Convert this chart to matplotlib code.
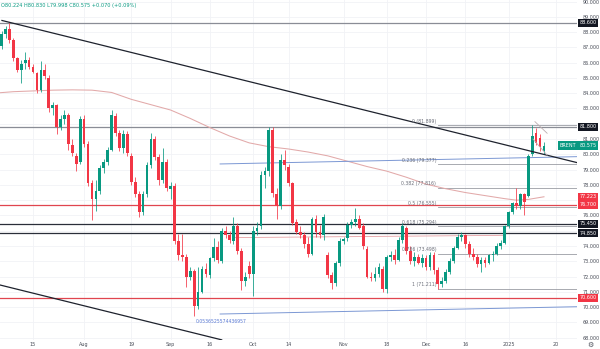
import numpy as np
import matplotlib.pyplot as plt
from matplotlib.transforms import blended_transform_factory

# daily Brent candles, one per trading day starting 2024-07-01
opens = [86.9, 87.3, 87.1, 87.9, 88.2, 87.5, 86.3, 85.5, 86.0, 86.2,
         85.7, 85.3, 84.2, 85.5, 85.0, 83.0, 83.2, 81.8, 82.3, 82.6,
         80.6, 79.9, 79.5, 82.3, 80.7, 78.1, 77.1, 77.6, 79.1, 79.5,
         80.3, 82.5, 81.4, 80.4, 81.3, 79.9, 78.2, 77.4, 76.2, 77.4,
         79.3, 81.0, 79.8, 78.3, 79.5, 77.7, 77.9, 74.3, 73.4, 73.3,
         72.0, 72.35, 70.05, 71.0, 72.5, 72.1, 73.2, 73.95, 73.0, 75.0,
         74.7, 74.3, 75.3, 73.7, 71.7, 72.7, 72.2, 75.0, 75.3, 78.65,
         78.9, 81.6, 77.4, 76.6, 79.6, 79.2, 78.1, 75.6, 74.9, 74.7,
         74.1, 73.5, 75.8, 74.9, 74.7, 73.4, 72.1, 71.6, 72.9, 74.3,
         74.5, 75.4, 75.6, 75.8, 75.3, 73.8, 72.0, 71.9, 72.2, 72.5,
         71.2, 73.3, 73.4, 73.1, 74.4, 75.2, 73.7, 73.0, 73.3, 72.9,
         73.2, 72.6, 73.4, 72.4, 71.5, 71.7, 72.3, 73.0, 73.9, 74.6,
         74.7, 74.1, 73.5, 73.3, 72.8, 73.1, 72.9, 73.4, 73.5, 74.0,
         74.2, 75.3, 76.25, 76.8, 76.6, 77.4, 77.3, 80.0, 81.4, 81.1,
         80.224]
highs = [87.6, 87.7, 88.1, 88.4, 88.6, 87.6, 86.4, 86.2, 86.7, 86.4,
         85.9, 85.4, 86.1, 85.9, 85.2, 83.4, 83.3, 82.6, 82.9, 82.7,
         81.0, 80.1, 82.5, 82.6, 80.9, 78.3, 78.3, 79.3, 79.7, 80.5,
         82.9, 82.7, 81.6, 81.6, 81.5, 80.1, 78.5, 77.6, 77.6, 79.5,
         81.4, 81.2, 80.0, 80.4, 79.7, 78.2, 78.1, 74.8, 74.8, 73.5,
         72.6, 72.5, 72.6, 72.7, 72.9, 73.3, 74.5, 74.3, 75.2, 75.3,
         75.0, 75.9, 75.5, 73.9, 72.3, 73.0, 75.3, 75.6, 78.9, 79.2,
         81.8, 81.8, 77.8, 80.0, 80.3, 79.4, 78.2, 75.8, 75.3, 74.9,
         74.6, 75.9, 76.0, 75.4, 76.1, 73.6, 72.3, 73.0, 74.5, 74.6,
         75.6, 75.8, 76.5, 76.0, 75.5, 74.0, 72.3, 72.6, 72.9, 72.7,
         73.4, 73.7, 73.8, 74.6, 75.5, 75.3, 74.0, 73.6, 73.5, 73.5,
         73.4, 73.6, 73.6, 72.6, 72.0, 72.5, 73.2, 74.0, 74.8, 74.9,
         74.8, 74.3, 73.9, 73.5, 73.3, 73.3, 73.5, 73.7, 74.2, 74.4,
         75.4, 76.3, 76.9, 77.8, 77.5, 77.5, 80.0, 81.899, 81.7, 81.3,
         80.830]
lows = [86.5, 86.8, 86.9, 87.6, 87.3, 86.1, 85.4, 84.7, 85.6, 85.6,
        85.3, 84.0, 84.1, 84.9, 82.8, 82.6, 81.3, 81.6, 82.0, 80.3,
        79.9, 78.9, 79.4, 80.5, 77.9, 75.7, 76.3, 77.4, 78.8, 79.3,
        80.2, 81.2, 80.2, 80.1, 79.9, 78.0, 77.2, 75.9, 76.0, 77.2,
        79.1, 79.6, 78.0, 78.1, 77.6, 77.1, 74.1, 73.1, 73.0, 71.35,
        71.8, 69.4, 69.9, 70.9, 72.0, 71.9, 73.0, 72.9, 72.9, 74.5,
        74.2, 74.1, 73.5, 71.1, 71.4, 71.9, 70.7, 74.7, 75.1, 77.8,
        78.6, 77.2, 75.8, 76.4, 79.0, 77.9, 75.4, 74.8, 74.5, 73.9,
        73.3, 73.4, 74.6, 74.5, 74.4, 71.9, 71.2, 71.4, 72.7, 74.1,
        74.3, 75.2, 75.3, 75.1, 73.8, 71.9, 71.7, 71.7, 72.0, 71.0,
        70.9, 73.0, 72.8, 73.0, 74.2, 73.5, 72.8, 72.7, 72.8, 72.6,
        72.4, 72.4, 72.2, 71.211, 71.3, 71.6, 72.2, 72.9, 73.8, 74.3,
        73.9, 73.3, 73.1, 72.6, 72.3, 72.6, 72.8, 73.0, 73.4, 73.8,
        74.1, 75.2, 76.1, 76.4, 76.4, 76.0, 77.2, 79.9, 80.6, 80.2,
        79.998]
closes = [87.3, 87.1, 87.9, 88.2, 87.5, 86.3, 85.5, 85.9, 86.2, 85.7,
          85.4, 84.2, 85.5, 85.1, 83.0, 83.2, 81.8, 82.3, 82.6, 80.7,
          80.1, 79.4, 82.3, 80.7, 78.1, 77.1, 77.6, 79.1, 79.5, 80.3,
          82.6, 81.4, 80.4, 81.3, 80.1, 78.2, 77.4, 76.2, 77.4, 79.3,
          81.0, 79.8, 78.3, 79.5, 77.8, 77.9, 74.3, 73.4, 73.3, 72.0,
          72.35, 70.05, 71.0, 72.5, 72.2, 73.2, 73.95, 73.1, 75.0, 74.7,
          74.4, 75.3, 73.7, 71.7, 72.0, 72.2, 75.0, 75.2, 78.65, 78.9,
          81.6, 77.5, 76.6, 79.6, 79.3, 78.1, 75.5, 74.9, 74.7, 74.1,
          73.5, 75.8, 74.9, 74.7, 75.9, 72.1, 71.6, 72.9, 74.3, 74.45,
          75.4, 75.6, 75.8, 75.2, 74.0, 72.0, 71.9, 72.2, 72.6, 71.2,
          73.3, 73.4, 73.1, 74.4, 75.3, 73.7, 73.0, 73.3, 72.9, 73.2,
          72.6, 73.4, 72.4, 71.5, 71.7, 72.3, 73.0, 73.9, 74.6, 74.7,
          74.1, 73.5, 73.3, 72.8, 73.1, 72.9, 73.4, 73.5, 74.0, 74.2,
          75.3, 76.25, 76.8, 76.6, 77.4, 76.9, 79.9, 81.2, 80.75, 80.505,
          80.575]

# 200-day moving average, sampled
ma_idx = [0, 5, 10, 15, 20, 25, 30, 35, 40, 45, 50, 55, 60, 65, 70, 75,
          80, 85, 90, 95, 100, 105, 110, 115, 120, 125, 130, 133, 136, 140]
ma_val = [84.0, 84.1, 84.15, 84.2, 84.22, 84.2, 84.05, 83.6, 83.25, 82.9,
          82.35, 81.75, 81.2, 80.75, 80.5, 80.35, 80.15, 79.9, 79.55, 79.2,
          78.9, 78.5, 78.05, 77.75, 77.5, 77.3, 77.1, 77.0, 77.05, 77.223]

tick_dates = ['2024-07-15', '2024-08-01', '2024-08-19', '2024-09-02',
              '2024-09-16', '2024-10-01', '2024-10-14', '2024-11-01',
              '2024-11-18', '2024-12-02', '2024-12-16', '2025-01-02',
              '2025-01-20']
tick_labels = ['15', 'Aug', '19', 'Sep', '16', 'Oct', '14', 'Nov', '18',
               'Dec', '16', '2025', '20']
holidays = ['2024-12-25', '2025-01-01']

fib_hi = 81.899
fib_lo = 71.211
fib_ratios = [0, 0.236, 0.382, 0.5, 0.618, 0.786, 1]

# horizontal levels with their price-scale tags
levels = [88.6, 81.8, 76.7, 75.45, 74.85, 70.6]
level_colors = ['#8a8d96', '#8a8d96', '#e0454f', '#2a2e39', '#2a2e39', '#e0454f']
tag_vals = [88.6, 81.8, 77.223, 76.7, 75.45, 74.85, 70.6]
tag_colors = ['#131722', '#131722', '#f23645', '#f23645', '#131722', '#131722', '#f23645']

GREEN = '#089981'
RED = '#f23645'
TXT = '#4a4e59'

fig = plt.figure(figsize=(6, 3.49), dpi=100)
ax = fig.add_axes([0, 9 / 349, 577 / 600, 340 / 349])
ax.set_xlim(1.6, 148.4)
ax.set_ylim(67.85, 90.1)
for s in ax.spines.values():
    s.set_visible(False)

o = np.array(opens); h = np.array(highs); l = np.array(lows); c = np.array(closes)
x = np.arange(len(c))
up = c >= o
col = np.where(up, GREEN, RED)
ax.vlines(x, l, h, colors=col, lw=0.55, zorder=4)
body = np.maximum(np.abs(c - o), 0.04)
ax.bar(x, body, bottom=np.minimum(o, c), width=0.7, color=col, lw=0, zorder=5)

# moving average
ax.plot(ma_idx, ma_val, color='#e2a9a9', lw=0.75, zorder=3)
ax.plot([60.9, 130.1], [74.55, 74.7], color='#e7a1a5', lw=0.6, zorder=3)

# horizontal levels
for lv, lc in zip(levels, level_colors):
    ax.axhline(lv, color=lc, lw=0.9, zorder=2)

# falling channel
ax.plot([2.1, 148.7], [88.76, 79.44], color='#1e222d', lw=0.9, zorder=6)
ax.plot([1.6, 58.0], [71.45, 67.86], color='#1e222d', lw=0.9, zorder=6)

# blue parallel channel
ax.plot([57.6, 148.7], [79.37, 79.85], color='#7c98d4', lw=0.7, zorder=3)
ax.plot([57.6, 148.7], [69.55, 70.03], color='#7c98d4', lw=0.7, zorder=3)
ax.text(51.5, 69.03, '0.0536525574436957', color='#5b7bd5', fontsize=3.3,
        ha='left', va='center', zorder=7)

# flag lines near the top
ax.plot([137.7, 140.8], [82.14, 81.38], color='#bcaeb0', lw=0.6, zorder=6)
ax.plot([137.2, 140.8], [81.0, 79.95], color='#bcaeb0', lw=0.6, zorder=6)

# fibonacci retracement
for r in fib_ratios:
    lv = fib_hi - r * (fib_hi - fib_lo)
    ax.plot([113.05, 148.4], [lv, lv], color='#9a9ca3', lw=0.6, zorder=2)
    ax.text(112.6, lv + 0.08, f'{r:g} ({lv:.3f})', color='#6a6d78',
            fontsize=3.3, ha='right', va='bottom', zorder=7)

# axes ticks
ticks = np.busday_count('2024-07-01', tick_dates, holidays=holidays)
ax.set_xticks(ticks)
ax.set_xticklabels(tick_labels)
yt = np.arange(68, 91)
ax.set_yticks(yt)
ax.set_yticklabels(['' if np.min(np.abs(np.array(tag_vals + [80.575]) - v)) < 0.35
                    else f'{v:.3f}' for v in yt])
ax.yaxis.tick_right()
ax.tick_params(axis='x', length=0, pad=1.5, labelsize=3.5, labelcolor=TXT)
ax.tick_params(axis='y', length=0, pad=4, labelsize=3.5, labelcolor=TXT)
ax.grid(True, color='#f1f2f6', lw=0.6, zorder=0)
ax.set_axisbelow(True)

trans = blended_transform_factory(ax.transAxes, ax.transData)
for v, bc in zip(tag_vals, tag_colors):
    ax.text(1.004, v, f'{v:.3f}', transform=trans, ha='left', va='center',
            fontsize=3.5, color='white', clip_on=False, zorder=10,
            bbox=dict(boxstyle='square,pad=0.35', fc=bc, ec='none'))
ax.text(1.004, 80.575, '80.575', transform=trans, ha='left', va='center',
        fontsize=3.5, color='white', clip_on=False, zorder=10,
        bbox=dict(boxstyle='square,pad=0.35', fc=GREEN, ec='none'))
ax.text(0.998, 80.575, 'BRENT', transform=trans, ha='right', va='center',
        fontsize=3.5, color='white', clip_on=False, zorder=10,
        bbox=dict(boxstyle='square,pad=0.35', fc=GREEN, ec='none'))

fig.text(0.002, 1 - 5 / 349, 'O80.224 H80.830 L79.998 C80.575 +0.070 (+0.09%)',
         color=GREEN, fontsize=3.6, ha='left', va='center')
fig.text(590 / 600, 1 - 345 / 349, '\u2699', color=TXT, fontsize=5,
         ha='center', va='center')

fig.savefig('out.png', dpi=100, facecolor='white')
